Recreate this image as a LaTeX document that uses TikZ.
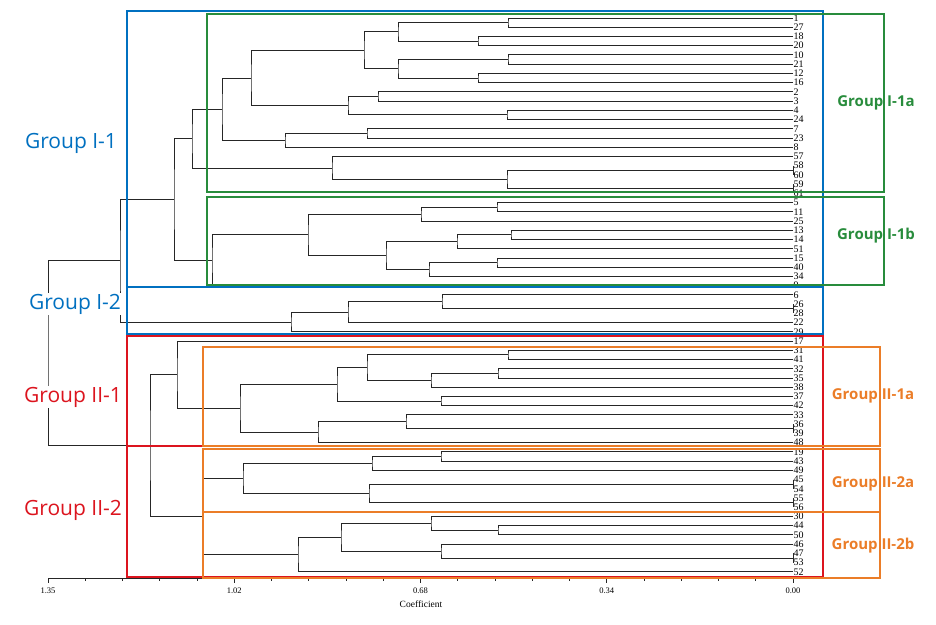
\documentclass[tikz,border=0pt]{standalone}
\usepackage{fontspec}
\setmainfont{Liberation Serif}
\newfontfamily\grpfont{Open Sans}
\usepackage{tikz}
\usetikzlibrary{calc}

\definecolor{grpblue}{RGB}{0,112,192}
\definecolor{grpgreen}{RGB}{40,140,60}
\definecolor{grpred}{RGB}{220,20,30}
\definecolor{grporange}{RGB}{235,125,40}

\begin{document}
\begin{tikzpicture}[x=1pt, y=-1pt,
  branch/.style={draw=black!85, line width=0.9pt},
  leafno/.style={anchor=west, inner sep=0.5pt, text height=6.6pt, text depth=0pt,
    font=\fontsize{10}{10}\selectfont},
  axlabel/.style={inner sep=0pt, font=\fontsize{8.5}{8.5}\selectfont},
  outbox/.style={line width=1.6pt},
  grplabel/.style={fill=white, inner sep=1pt, font=\grpfont\fontsize{21}{21}\selectfont},
  sublabel/.style={inner sep=1pt, font=\grpfont\bfseries\fontsize{15}{15}\selectfont}
]
\useasboundingbox (0,0) rectangle (936,624);

% leaves, top to bottom
\foreach \lab [count=\i from 0] in {1,27,18,20,10,21,12,16,2,3,4,24,7,23,8,57,58,60,59,61,
  5,11,25,13,14,51,15,40,34,9,6,26,28,22,29,17,31,41,32,35,38,37,42,33,36,39,48,
  19,43,49,45,54,55,56,30,44,50,46,47,53,52}{
  \coordinate (l\lab) at (793,{18+9.23*\i});
  \node[leafno] (t\lab) at (l\lab) {\lab};
}

% joins: name/height/child/child
\foreach \nm/\mx/\ca/\cb in {
  a1/508/l1/l27, a2/478/l18/l20, a3/398/a1/a2, a4/508/l10/l21, a5/478/l12/l16,
  a6/398/a4/a5, a7/364/a3/a6, a8/378/l2/l3, a9/507/l4/l24, a10/348/a8/a9,
  a11/251/a7/a10, a12/367/l7/l23, a13/285/a12/l8, a14/222/a11/a13,
  a15/793/l58/l60, a16/793/l59/l61, a17/507/a15/a16, a18/332/l57/a17, a19/192/a14/a18,
  b1/497/l5/l11, b2/421/b1/l25, b3/511/l13/l14, b4/457/b3/l51, b5/497/l15/l40,
  b6/429/b5/l34, b7/386/b4/b6, b8/308/b2/b7, b9/212/b8/l9, c1/174/a19/b9,
  d1/793/l26/l28, d2/442/l6/d1, d3/348/d2/l22, d4/291/d3/l29, c2/120/c1/d4,
  e1/508/l31/l41, e2/498/l32/l35, e3/431/e2/l38, e4/367/e1/e3, e5/441/l37/l42,
  e6/337/e4/e5, e7/793/l36/l39, e8/406/l33/e7, e9/318/e8/l48, e10/240/e6/e9,
  e11/177/l17/e10,
  f1/441/l19/l43, f2/372/f1/l49, f3/793/l45/l54, f4/793/l55/l56, f5/369/f3/f4,
  f6/243/f2/f5, f7/498/l44/l50, f8/431/l30/f7, f9/793/l47/l53, f10/441/l46/f9,
  f11/341/f8/f10, f12/298/f11/l52, f13/202/f6/f12, g1/150/e11/f13, root/48/c2/g1}{
  \path let \p1=($(\ca)!0.5!(\cb)$) in coordinate (\nm) at (\mx pt,\y1);
  \draw[branch] (\ca) -| (\nm) |- (\cb);
}

% axis
\draw[black!85, line width=0.8pt] (48,578) -- (793,578);
\foreach \k in {0,...,20} \draw[black!85, line width=0.6pt] (48+37.25*\k,578) -- ++(0,3);
\foreach \v [count=\j from 0] in {1.35,1.02,0.68,0.34,0.00}{
  \draw[black!85, line width=0.6pt] (48+186.25*\j,578) -- ++(0,5);
  \node[axlabel] (v\j) at (48+186.25*\j,591) {\v};
}
\node[axlabel, font=\fontsize{9.5}{9.5}\selectfont] (coef) at (421,604) {Coefficient};

% group boxes
\draw[outbox, grpblue] (127,11) rectangle (823,287);
\draw[outbox, grpblue] (127,287) rectangle (823,334);
\draw[outbox, grpred] (127,336) rectangle (823,446);
\draw[outbox, grpred] (127,446) rectangle (823,577);
\draw[outbox, grpgreen] (207,14) rectangle (884,192);
\draw[outbox, grpgreen] (207,197) rectangle (884,285);
\draw[outbox, grporange] (203,347) rectangle (880,446);
\draw[outbox, grporange] (203,449) rectangle (880,512);
\draw[outbox, grporange] (203,512) rectangle (880,578);

\node[grplabel, text=grpblue] (gI1) at (71,143) {Group I-1};
\node[grplabel, text=grpblue] (gI2) at (75,304) {Group I-2};
\node[grplabel, text=grpred] (gII1) at (73,397) {Group II-1};
\node[grplabel, text=grpred] (gII2) at (73,510) {Group II-2};
\node[sublabel, text=grpgreen] (gI1a) at (876,103) {Group I-1a};
\node[sublabel, text=grpgreen] (gI1b) at (876,236) {Group I-1b};
\node[sublabel, text=grporange] (gII1a) at (873,396) {Group II-1a};
\node[sublabel, text=grporange] (gII2a) at (873,484) {Group II-2a};
\node[sublabel, text=grporange] (gII2b) at (873,546) {Group II-2b};
\end{tikzpicture}
\end{document}
